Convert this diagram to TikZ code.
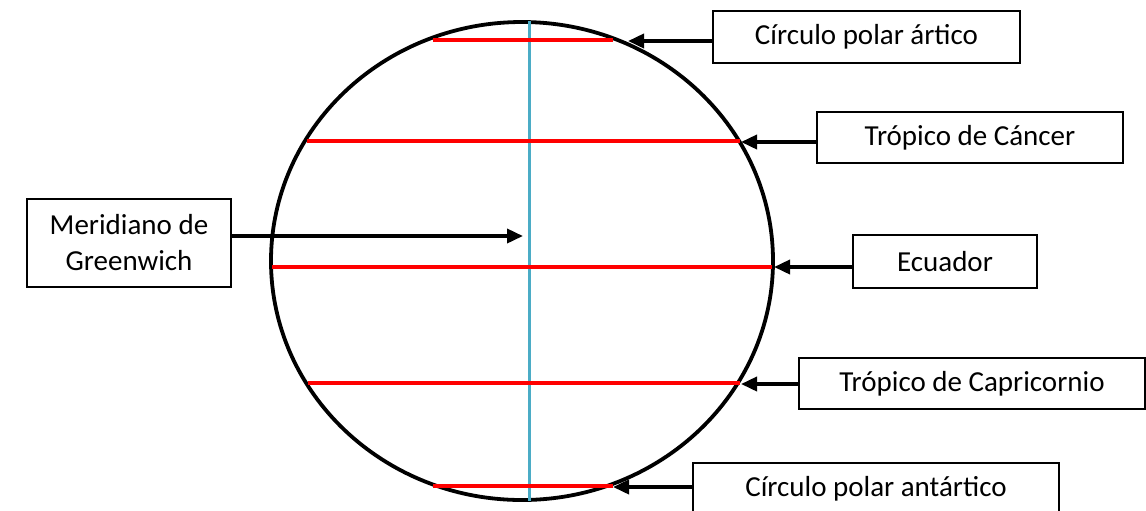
\documentclass[tikz,border=0pt]{standalone}
\usepackage{fontspec}
\setmainfont{Carlito}
\usepackage{tikz}
\usetikzlibrary{arrows.meta, positioning, calc}

\definecolor{meridblue}{RGB}{75,172,198}

\begin{document}
\begin{tikzpicture}[
    x=0.5pt, y=-0.5pt,
    label/.style={rectangle, draw, line width=0.9pt, inner sep=0pt, align=center, font=\fontsize{14.5}{18}\selectfont},
    parallel/.style={red, line width=1.8pt},
    arrow/.style={-{Triangle[length=8pt, width=7pt]}, line width=1.8pt},
]
    \useasboundingbox (0,0) rectangle (1146,510);

    % Globe
    \draw[line width=1.9pt] (522,261) ellipse [x radius=251, y radius=239];
    \draw[meridblue, line width=1.5pt] (529,21) -- (529,501);

    % Parallels
    \draw[parallel] (433,40) -- (613,40);
    \draw[parallel] (307,141) -- (740,141);
    \draw[parallel] (272,267) -- (772,267);
    \draw[parallel] (308,383) -- (740,383);
    \draw[parallel] (433,486) -- (613,486);

    % Arrow ends
    \coordinate (articoEnd) at (628,41);
    \coordinate (cancerEnd) at (741,142);
    \coordinate (ecuadorEnd) at (774,267);
    \coordinate (capriEnd) at (741,384);
    \coordinate (antarticoEnd) at (613,487);
    \coordinate (meridEnd) at (523,236);

    % Labels
    \node[label, minimum width=153.5pt, minimum height=26pt] (artico) at (866.5,37) {Círculo polar ártico};
    \node[label, minimum width=153pt, minimum height=25.5pt] (cancer) at (970,137.5) {Trópico de Cáncer};
    \node[label, minimum width=92pt, minimum height=26.5pt] (ecuador) at (945,261.5) {Ecuador};
    \node[label, minimum width=173pt, minimum height=25.5pt] (capri) at (972,383.5) {Trópico de Capricornio};
    \node[label, minimum width=183pt, minimum height=26pt] (antartico) at (876,489) {Círculo polar antártico};
    \node[label, minimum width=102pt, minimum height=44pt] (merid) at (129,243) {Meridiano de\\Greenwich};

    % Arrows
    \draw[arrow] (artico.west |- articoEnd) -- (articoEnd);
    \draw[arrow] (cancer.west |- cancerEnd) -- (cancerEnd);
    \draw[arrow] (ecuador.west |- ecuadorEnd) -- (ecuadorEnd);
    \draw[arrow] (capri.west |- capriEnd) -- (capriEnd);
    \draw[arrow] (antartico.west |- antarticoEnd) -- (antarticoEnd);
    \draw[arrow] (merid.east |- meridEnd) -- (meridEnd);
\end{tikzpicture}
\end{document}
